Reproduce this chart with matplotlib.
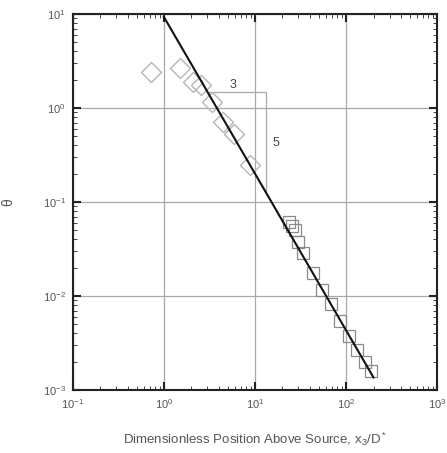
import matplotlib
matplotlib.use("Agg")
import matplotlib.pyplot as plt
from matplotlib.ticker import LogLocator, NullFormatter

plt.rcParams['font.family'] = ['Liberation Sans', 'DejaVu Sans']
plt.rcParams['mathtext.fontset'] = 'custom'
plt.rcParams['mathtext.rm'] = 'Liberation Sans'
plt.rcParams['mathtext.it'] = 'Liberation Sans'
plt.rcParams['mathtext.default'] = 'regular'

# data
diam_x = [0.72, 1.5, 2.08, 2.55, 3.37, 4.45, 5.87, 8.8]
diam_y = [2.42, 2.67, 1.89, 1.76, 1.16, 0.71, 0.53, 0.248]

sq_x = [23.7, 25.5, 27.5, 29.7, 33.7, 43.4, 54.4, 68.4, 85.9, 108, 132, 162, 188]
sq_y = [0.0612, 0.0556, 0.0504, 0.0375, 0.0286, 0.0176, 0.0116, 0.0082,
        0.0054, 0.00375, 0.00267, 0.00199, 0.00159]

# -5/3 power law line
fit_x = [1.0, 200.0]
fit_y = [9.3, 0.00136]

# slope triangle
tri_x = [3.1, 13.2, 13.2]
tri_y = [1.48, 1.48, 0.127]

gray_txt = '#555555'

fig = plt.figure(figsize=(4.47, 4.53), dpi=100)
ax = fig.add_axes([0.163, 0.139, 0.815, 0.830])

ax.set_xscale('log')
ax.set_yscale('log')
ax.set_xlim(0.1, 1000)
ax.set_ylim(0.001, 10)

ax.grid(True, which='major', color='#a8a8a8', linewidth=0.9)
ax.set_axisbelow(True)

ax.plot(tri_x, tri_y, color='#a8a8a8', linewidth=0.9)

ax.plot(diam_x, diam_y, linestyle='none', marker='D', markersize=10,
        markerfacecolor='none', markeredgecolor='#b5b5b5', markeredgewidth=1.0)
ax.plot(sq_x, sq_y, linestyle='none', marker='s', markersize=8.5,
        markerfacecolor='none', markeredgecolor='#8a8a8a', markeredgewidth=0.9)

ax.plot(fit_x, fit_y, color='#111111', linewidth=1.5)

ax.text(5.8, 1.75, '3', fontsize=9, color='#444444', ha='center', va='center')
ax.text(17.0, 0.42, '5', fontsize=9, color='#444444', ha='center', va='center')

ax.xaxis.set_major_locator(LogLocator(base=10, numticks=10))
ax.yaxis.set_major_locator(LogLocator(base=10, numticks=10))
ax.xaxis.set_minor_locator(LogLocator(base=10, subs=range(2, 10), numticks=20))
ax.yaxis.set_minor_locator(LogLocator(base=10, subs=range(2, 10), numticks=20))
ax.xaxis.set_minor_formatter(NullFormatter())
ax.yaxis.set_minor_formatter(NullFormatter())

ax.tick_params(which='both', direction='in', top=True, right=True,
               colors='#222222', labelcolor=gray_txt, labelsize=8)
ax.tick_params(which='major', length=6, width=1.5, pad=5)
ax.tick_params(which='minor', length=3, width=0.6)

for s in ax.spines.values():
    s.set_linewidth(1.5)
    s.set_color('#222222')

ax.set_xlabel(r'Dimensionless Position Above Source, x$_3$/D$^*$', fontsize=9.5,
              color=gray_txt, labelpad=14)
ax.set_ylabel('θ', fontsize=10, color=gray_txt, labelpad=20)

fig.savefig('out.png', dpi=100)
